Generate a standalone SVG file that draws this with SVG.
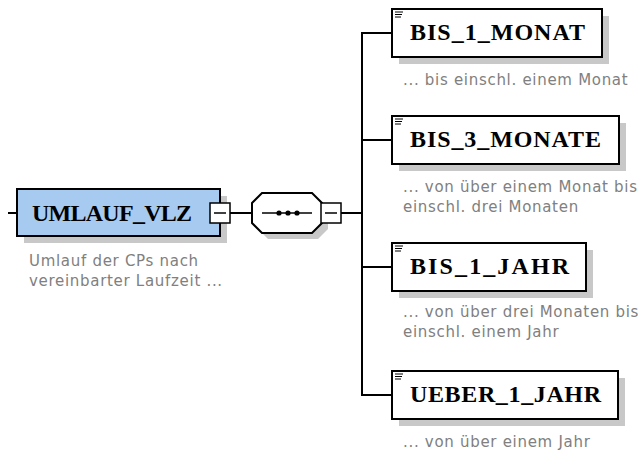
<svg xmlns="http://www.w3.org/2000/svg" width="643" height="454" viewBox="0 0 643 454">
<style>
.bg{fill:#ffffff}
.shadow{fill:#c8c8c8}
.box{fill:#ffffff;stroke:#000000;stroke-width:2}
.main{fill:#a7caf0;stroke:#000000;stroke-width:2}
.name{font-family:"Liberation Serif",serif;font-weight:bold;font-size:24px;fill:#000000}
.desc{font-family:"DejaVu Sans",sans-serif;font-size:15px;letter-spacing:0.7px;fill:#808080}
.conn{stroke:#000000;stroke-width:2;fill:none}
.pm{fill:#ffffff;stroke:#000000;stroke-width:1.5}
.pmline{stroke:#000000;stroke-width:1.5}
.icon{stroke:#000000;stroke-width:1}
</style>
<defs>
<g id="docicon">
<line class="icon" x1="395" y1="0" x2="403" y2="0"/>
<line class="icon" x1="395" y1="2.5" x2="402" y2="2.5"/>
<line class="icon" x1="395" y1="5" x2="401" y2="5"/>
</g>
</defs>
<rect class="bg" x="0" y="0" width="643" height="454"/>
<g id="connectors">
<line class="conn" x1="8" y1="213" x2="17" y2="213"/>
<line class="conn" x1="230" y1="213" x2="252" y2="213"/>
<line class="conn" x1="341" y1="213" x2="362" y2="213"/>
<line class="conn" x1="362" y1="32" x2="362" y2="396"/>
<line class="conn" x1="361" y1="33" x2="392" y2="33"/>
<line class="conn" x1="361" y1="140" x2="392" y2="140"/>
<line class="conn" x1="361" y1="267" x2="392" y2="267"/>
<line class="conn" x1="361" y1="395" x2="392" y2="395"/>
</g>
<g id="UMLAUF_VLZ">
<rect class="shadow" x="24" y="196" width="203" height="47"/>
<rect class="main" x="17" y="189" width="203" height="47"/>
<text class="name" x="32" y="221" textLength="160" lengthAdjust="spacing">UMLAUF_VLZ</text>
<rect class="pm" x="210" y="203" width="20" height="20"/>
<line class="pmline" x1="214" y1="213" x2="226" y2="213"/>
<text class="desc" x="29" y="266">Umlauf der CPs nach</text>
<text class="desc" x="29" y="286">vereinbarter Laufzeit ...</text>
</g>
<g id="sequence">
<polygon class="shadow" points="268,199 318,199 328,209 328,229 318,239 268,239 258,229 258,209"/>
<polygon class="box" stroke-width="1.5" points="262,193 312,193 322,203 322,223 312,233 262,233 252,223 252,203"/>
<line class="pmline" x1="262" y1="213" x2="312" y2="213"/>
<circle cx="279" cy="213" r="2.6" fill="#000"/>
<circle cx="288" cy="213" r="2.6" fill="#000"/>
<circle cx="297" cy="213" r="2.6" fill="#000"/>
<rect class="pm" x="321" y="203" width="20" height="20"/>
<line class="pmline" x1="325" y1="213" x2="337" y2="213"/>
</g>
<g id="BIS_1_MONAT">
<rect class="shadow" x="399" y="16" width="210" height="48"/>
<rect class="box" x="392" y="9" width="210" height="48"/>
<use href="#docicon" y="12"/>
<text class="name" x="410" y="40" textLength="175" lengthAdjust="spacing">BIS_1_MONAT</text>
<text class="desc" x="403" y="85">... bis einschl. einem Monat</text>
</g>
<g id="BIS_3_MONATE">
<rect class="shadow" x="399" y="123" width="227" height="48"/>
<rect class="box" x="392" y="116" width="227" height="48"/>
<use href="#docicon" y="119"/>
<text class="name" x="410" y="147" textLength="191" lengthAdjust="spacing">BIS_3_MONATE</text>
<text class="desc" x="403" y="192">... von über einem Monat bis</text>
<text class="desc" x="403" y="212">einschl. drei Monaten</text>
</g>
<g id="BIS_1_JAHR">
<rect class="shadow" x="399" y="250" width="194" height="48"/>
<rect class="box" x="392" y="243" width="194" height="48"/>
<use href="#docicon" y="246"/>
<text class="name" x="410" y="274" textLength="159" lengthAdjust="spacing">BIS_1_JAHR</text>
<text class="desc" x="403" y="317">... von über drei Monaten bis</text>
<text class="desc" x="403" y="337">einschl. einem Jahr</text>
</g>
<g id="UEBER_1_JAHR">
<rect class="shadow" x="399" y="378" width="226" height="48"/>
<rect class="box" x="392" y="371" width="226" height="48"/>
<use href="#docicon" y="374"/>
<text class="name" x="410" y="402" textLength="191" lengthAdjust="spacing">UEBER_1_JAHR</text>
<text class="desc" x="403" y="447">... von über einem Jahr</text>
</g>
</svg>
